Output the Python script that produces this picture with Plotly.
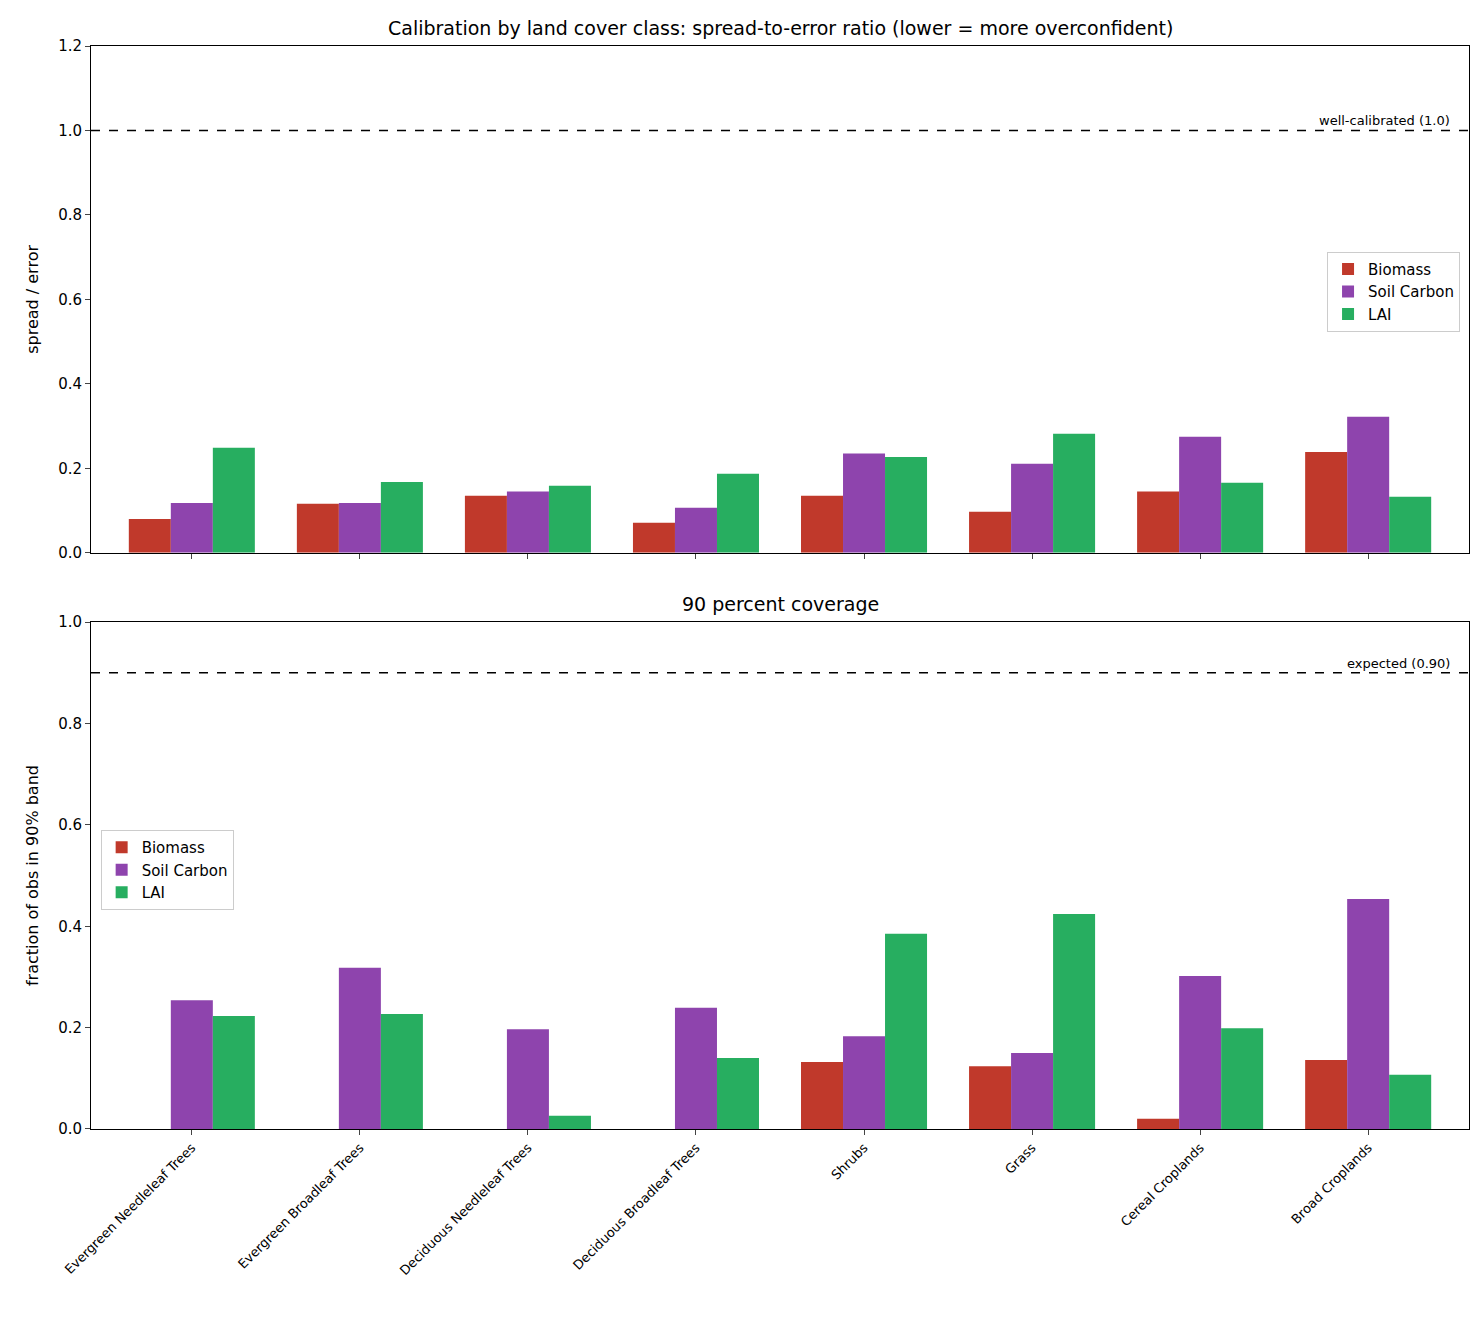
import plotly.graph_objects as go

classes = ["Evergreen Needleleaf Trees", "Evergreen Broadleaf Trees", "Deciduous Needleleaf Trees",
           "Deciduous Broadleaf Trees", "Shrubs", "Grass", "Cereal Croplands", "Broad Croplands"]
series = ["Biomass", "Soil Carbon", "LAI"]
colors = ["#c0392b", "#8e44ad", "#27ae60"]

# spread-to-error ratio
ratio_biomass = [0.080, 0.116, 0.135, 0.071, 0.135, 0.097, 0.145, 0.239]
ratio_soil = [0.118, 0.118, 0.145, 0.107, 0.235, 0.211, 0.275, 0.322]
ratio_lai = [0.249, 0.168, 0.159, 0.187, 0.227, 0.282, 0.166, 0.133]

# 90% coverage
cov_biomass = [0.0, 0.0, 0.0, 0.0, 0.132, 0.124, 0.020, 0.136]
cov_soil = [0.254, 0.318, 0.197, 0.239, 0.183, 0.150, 0.302, 0.454]
cov_lai = [0.223, 0.227, 0.026, 0.140, 0.385, 0.424, 0.199, 0.107]

fig = go.Figure()
top = [ratio_biomass, ratio_soil, ratio_lai]
bot = [cov_biomass, cov_soil, cov_lai]
x = list(range(len(classes)))
for i, name in enumerate(series):
    fig.add_trace(go.Bar(x=x, y=top[i], name=name, marker_color=colors[i], marker_line_width=0,
                         offsetgroup=str(i), xaxis="x", yaxis="y", legend="legend"))
    fig.add_trace(go.Bar(x=x, y=bot[i], name=name, marker_color=colors[i], marker_line_width=0,
                         offsetgroup=str(i), xaxis="x2", yaxis="y2", legend="legend2"))

ax = dict(showline=True, linecolor="black", mirror=True, ticks="outside",
          showgrid=False, zeroline=False, tickfont=dict(size=15, color="black"))
xr = [-0.6, len(classes) - 0.4]

fig.update_layout(
    width=1468, height=1318,
    font=dict(family="DejaVu Sans", color="black"),
    paper_bgcolor="white", plot_bgcolor="white",
    margin=dict(l=83, r=7, t=38, b=197),
    barmode="group", bargap=0.25, bargroupgap=0,
    xaxis=dict(ax, domain=[0, 1], anchor="y", range=xr, tickvals=x, showticklabels=False),
    yaxis=dict(ax, domain=[0.532, 1], range=[0, 1.2], dtick=0.2, tickformat=".1f",
               title=dict(text="spread / error", font=dict(size=16))),
    xaxis2=dict(ax, domain=[0, 1], anchor="y2", range=xr, tickvals=x, ticktext=classes,
                tickangle=-45, tickfont=dict(size=13, color="black")),
    yaxis2=dict(ax, domain=[0, 0.468], range=[0, 1.0], dtick=0.2, tickformat=".1f",
                title=dict(text="fraction of obs in 90% band", font=dict(size=16))),
    legend=dict(x=0.9935, y=0.81, xanchor="right", yanchor="top", bordercolor="#cccccc",
                borderwidth=1, font=dict(size=15)),
    legend2=dict(x=0.007, y=0.276, xanchor="left", yanchor="top", bordercolor="#cccccc",
                 borderwidth=1, font=dict(size=15)),
    shapes=[
        dict(type="line", xref="x domain", yref="y", x0=0, x1=1, y0=1.0, y1=1.0,
             line=dict(color="black", width=1.5, dash="dash")),
        dict(type="line", xref="x2 domain", yref="y2", x0=0, x1=1, y0=0.9, y1=0.9,
             line=dict(color="black", width=1.5, dash="dash")),
    ],
    annotations=[
        dict(text="well-calibrated (1.0)", xref="x", yref="y", x=7.5, y=1.0,
             xanchor="right", yanchor="bottom", showarrow=False, font=dict(size=13)),
        dict(text="expected (0.90)", xref="x2", yref="y2", x=7.5, y=0.9,
             xanchor="right", yanchor="bottom", showarrow=False, font=dict(size=13)),
        dict(text="Calibration by land cover class: spread-to-error ratio (lower = more overconfident)",
             xref="paper", yref="paper", x=0.5, y=1.005, xanchor="center", yanchor="bottom",
             showarrow=False, font=dict(size=19)),
        dict(text="90 percent coverage", xref="paper", yref="paper", x=0.5, y=0.473,
             xanchor="center", yanchor="bottom", showarrow=False, font=dict(size=19)),
    ],
)

fig.write_html("out.html")
